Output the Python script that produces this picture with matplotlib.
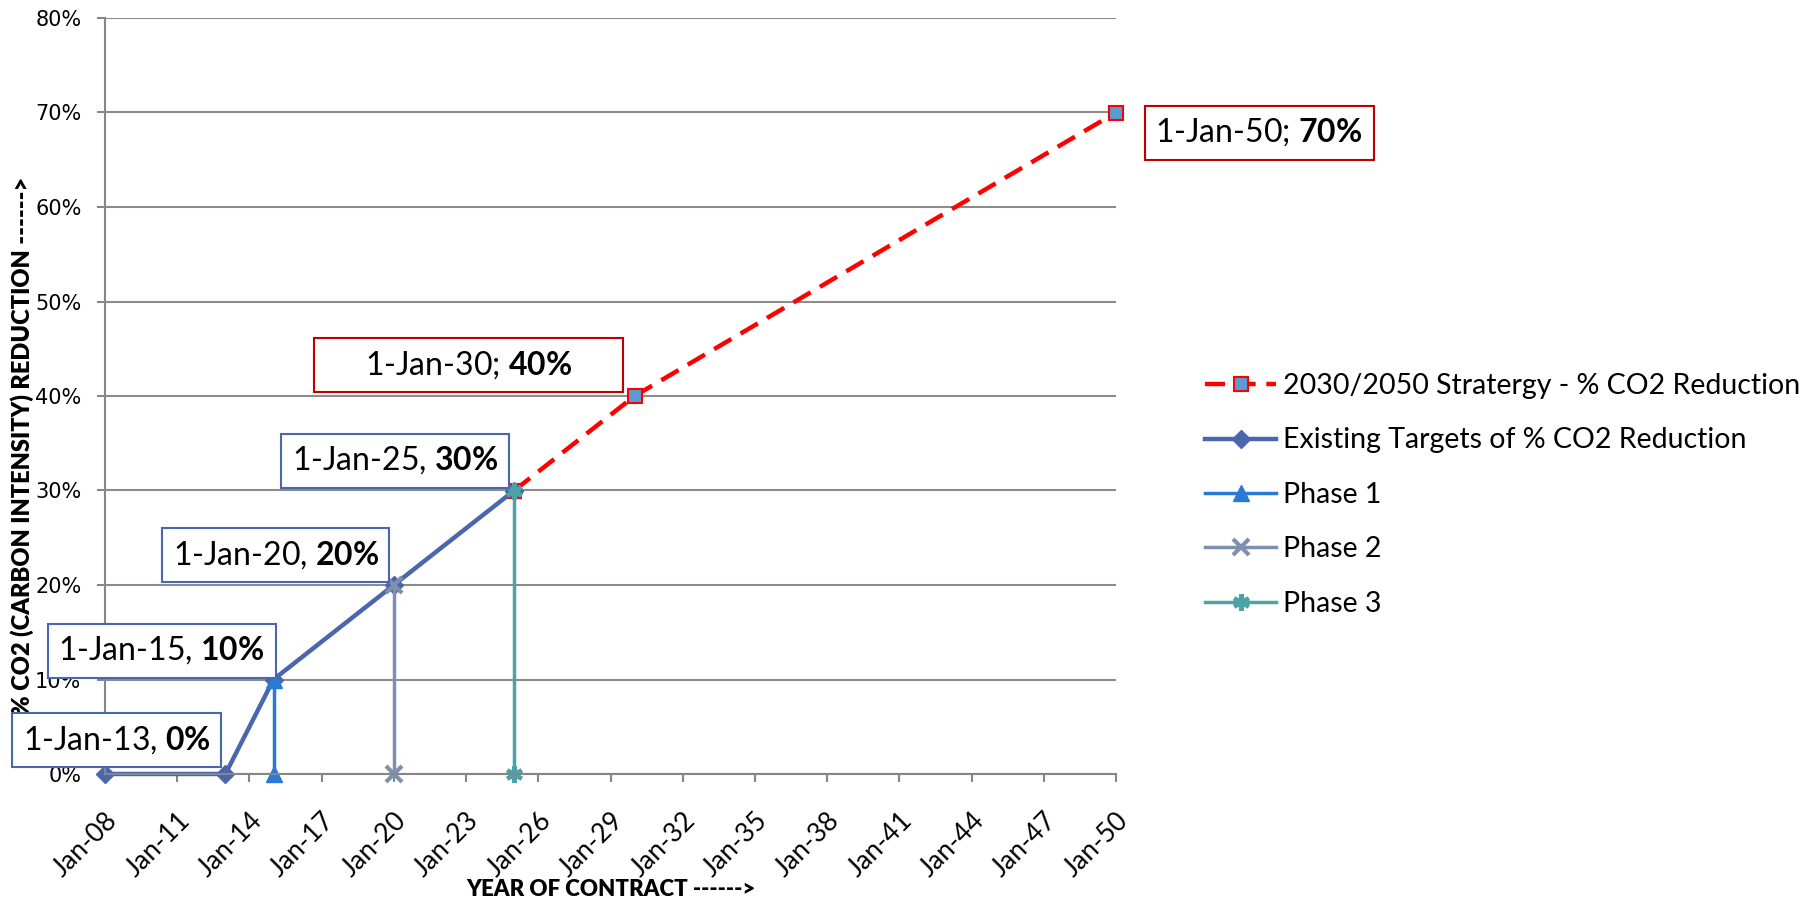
import numpy as np
import pandas as pd
import matplotlib
matplotlib.use("Agg")
import matplotlib.pyplot as plt
import matplotlib.dates as mdates
from matplotlib.ticker import FuncFormatter
from matplotlib.patches import Rectangle
from matplotlib.transforms import IdentityTransform
from matplotlib.font_manager import FontProperties

plt.rcParams['font.family'] = ['Lato', 'DejaVu Sans']
plt.rcParams['mathtext.fontset'] = 'custom'
plt.rcParams['mathtext.rm'] = 'Lato'
plt.rcParams['mathtext.bf'] = 'Lato:bold'

# data
strategy_dates = ['2025-01-01', '2030-01-01', '2050-01-01']
strategy_vals = [0.30, 0.40, 0.70]
existing_dates = ['2008-01-01', '2013-01-01', '2015-01-01', '2020-01-01', '2025-01-01']
existing_vals = [0.0, 0.0, 0.10, 0.20, 0.30]
phase1_dates = ['2015-01-01', '2015-01-01']
phase1_vals = [0.0, 0.10]
phase2_dates = ['2020-01-01', '2020-01-01']
phase2_vals = [0.0, 0.20]
phase3_dates = ['2025-01-01', '2025-01-01']
phase3_vals = [0.0, 0.30]
tick_years = list(range(2008, 2051, 3))

# labels on points: (date, value, text, edge colour, offset px, box width px)
labels = [
    ('2013-01-01', 0.0, r'1-Jan-13, $\mathbf{0\%}$', '#4a66ac', (-109, 34), 209),
    ('2015-01-01', 0.10, r'1-Jan-15, $\mathbf{10\%}$', '#4a66ac', (-112, 29), 228),
    ('2020-01-01', 0.20, r'1-Jan-20, $\mathbf{20\%}$', '#4a66ac', (-118, 30), 227),
    ('2025-01-01', 0.30, r'1-Jan-25, $\mathbf{30\%}$', '#4a66ac', (-119, 30), 228),
    ('2030-01-01', 0.40, r'1-Jan-30; $\mathbf{40\%}$', '#c00000', (-166, 31), 309),
    ('2050-01-01', 0.70, r'1-Jan-50; $\mathbf{70\%}$', '#c00000', (143, -20), 229),
]
box_h = 54

fig = plt.figure(figsize=(18.12, 9), dpi=100)
ax = fig.add_axes([105 / 1812, 1 - 774 / 900, 1011 / 1812, 756 / 900])

ax.plot(pd.to_datetime(strategy_dates), strategy_vals, color='#ff0000', lw=3.2,
        dashes=(4.5, 2.4), marker='s', markersize=10, markerfacecolor='#5b9bd5',
        markeredgecolor='#ff0000', markeredgewidth=1.5, clip_on=False,
        label='2030/2050 Stratergy - % CO2 Reduction')
ax.plot(pd.to_datetime(existing_dates), existing_vals, color='#4a66ac', lw=3.2,
        marker='D', markersize=9, clip_on=False, label='Existing Targets of % CO2 Reduction')
ax.plot(pd.to_datetime(phase1_dates), phase1_vals, color='#2a7ad5', lw=2.5,
        marker='^', markersize=12, clip_on=False, label='Phase 1')
ax.plot(pd.to_datetime(phase2_dates), phase2_vals, color='#7f8fb0', lw=2.5,
        marker='x', markersize=11, markeredgewidth=3, clip_on=False, label='Phase 2')
ax.plot(pd.to_datetime(phase3_dates), phase3_vals, color='#4ba3a8', lw=2.5,
        marker=(6, 2, 0), markersize=12, markeredgewidth=3, clip_on=False, label='Phase 3')

ax.set_xlim(pd.Timestamp('2008-01-01'), pd.Timestamp('2050-01-01'))
ax.set_ylim(0, 0.8)
ax.set_xticks(pd.to_datetime([f'{y}-01-01' for y in tick_years]))
ax.xaxis.set_major_formatter(mdates.DateFormatter('%b-%y'))
ax.set_yticks(np.arange(0, 0.81, 0.1))
ax.yaxis.set_major_formatter(FuncFormatter(lambda v, p: f'{v * 100:.0f}%'))

ax.tick_params(axis='both', colors='#868686', length=6, width=1.5, labelcolor='black')
ax.tick_params(axis='x', pad=18, labelsize=19, labelrotation=45)
ax.tick_params(axis='y', pad=11, labelsize=15, labelfontfamily='DejaVu Sans')
plt.setp(ax.get_xticklabels(), ha='right', va='top', rotation_mode='anchor')

ax.grid(axis='y', color='#8c8c8c', lw=1.5)
ax.set_axisbelow(True)
for s in ['top', 'right']:
    ax.spines[s].set_visible(False)
for s in ['left', 'bottom']:
    ax.spines[s].set_color('#868686')
    ax.spines[s].set_linewidth(1.5)

ax.set_xlabel('YEAR OF CONTRACT ------>',
              fontproperties=FontProperties(family='Lato', weight='heavy', size=16))
ax.set_ylabel('% CO2 (CARBON INTENSITY) REDUCTION ------>',
              fontproperties=FontProperties(family='Lato', weight='heavy', size=17))
ax.xaxis.set_label_coords(0.5, -0.139)
ax.yaxis.set_label_coords(-0.070, 0.434)

ax.legend(loc='upper left', bbox_to_anchor=(1205 / 1812, 1 - 373 / 900),
          bbox_transform=fig.transFigure, frameon=False, fontsize=20.5,
          handlelength=2.5, handletextpad=0.25, labelspacing=1.0,
          borderpad=0, borderaxespad=0)

texts = []
for d, v, txt, ec, off, w in labels:
    t = ax.annotate(txt, xy=(mdates.date2num(pd.Timestamp(d)), v), xytext=off,
                    textcoords='offset pixels', ha='center', va='center', fontsize=23,
                    annotation_clip=False, zorder=11)
    texts.append((t, ec, w))

fig.canvas.draw()
for t, ec, w in texts:
    bb = t.get_window_extent()
    cx, cy = (bb.x0 + bb.x1) / 2, (bb.y0 + bb.y1) / 2
    ax.add_patch(Rectangle((cx - w / 2, cy - box_h / 2), w, box_h,
                           transform=IdentityTransform(), fc='white', ec=ec,
                           lw=1.5, zorder=10, clip_on=False))

fig.savefig('out.png', dpi=100)
